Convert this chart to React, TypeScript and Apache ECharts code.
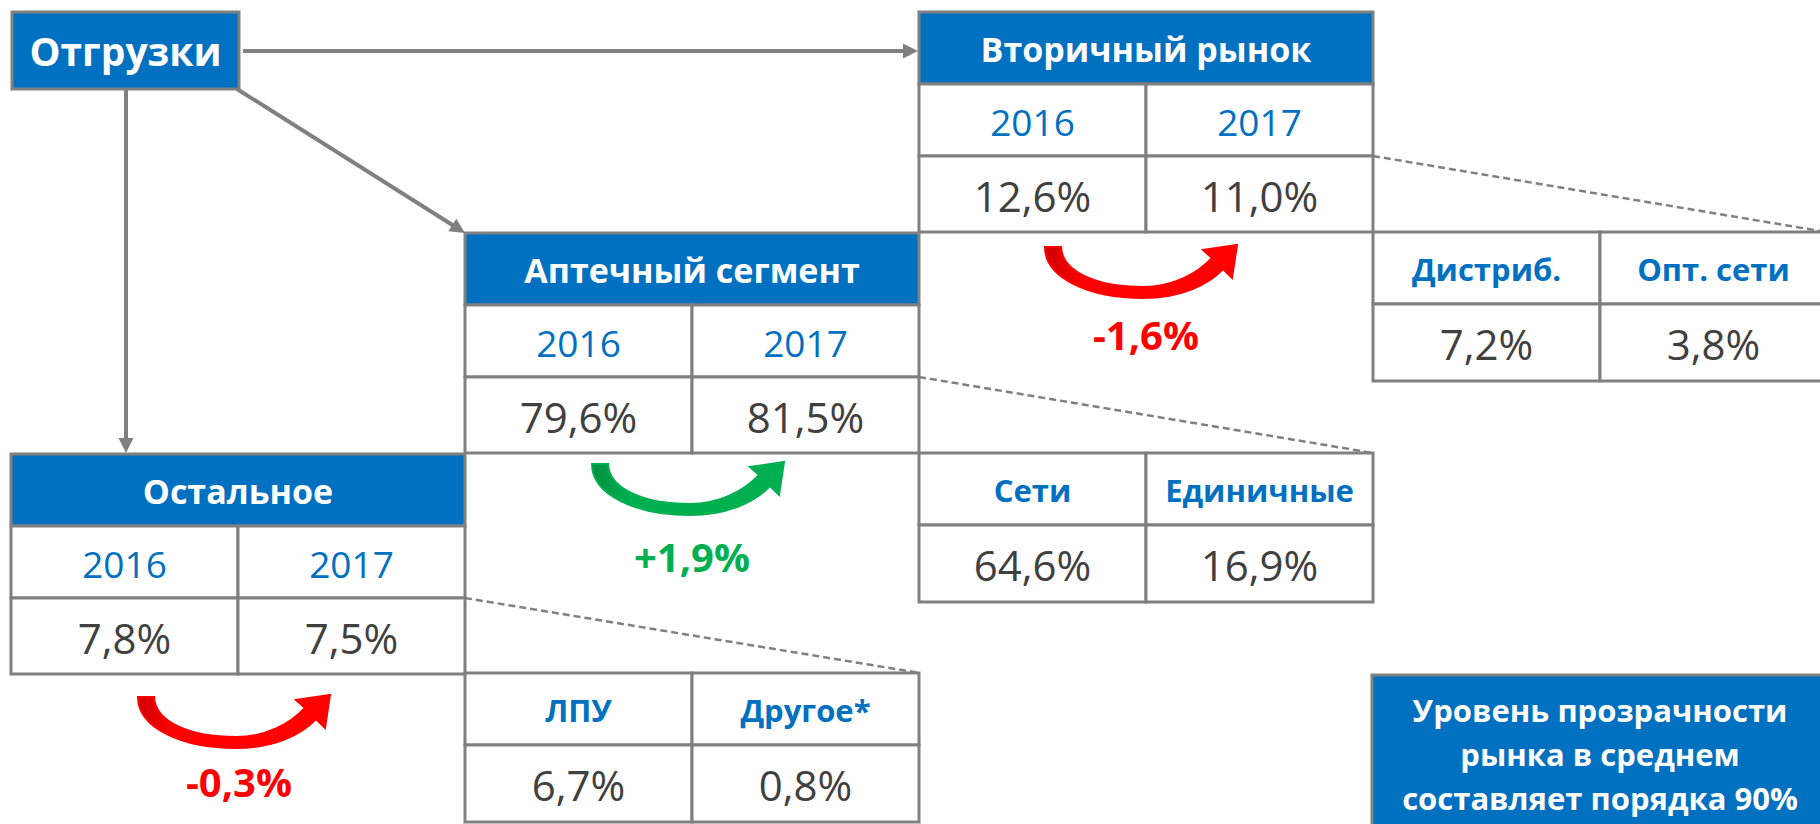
import React, { useEffect, useRef } from "react";
import * as echarts from "echarts";

// ---- data ----
const rootLabel = "Отгрузки";
const segments = ["Вторичный рынок", "Аптечный сегмент", "Остальное"];
const years = ["2016", "2017"];
const share2016 = [12.6, 79.6, 7.8];
const share2017 = [11.0, 81.5, 7.5];
const deltas = ["-1,6%", "+1,9%", "-0,3%"];
const subLabels = [
  ["Дистриб.", "Опт. сети"],
  ["Сети", "Единичные"],
  ["ЛПУ", "Другое*"],
];
const subValues = [
  [7.2, 3.8],
  [64.6, 16.9],
  [6.7, 0.8],
];
const noteLines = ["Уровень прозрачности", "рынка в среднем", "составляет порядка 90%"];

// ---- styling / layout ----
const BLUE = "#0070C0";
const GRAY = "#808080";
const DARK = "#404040";
const RED = "#FF0000";
const GREEN = "#00B050";
const FONT = "'Open Sans', 'Noto Sans', sans-serif";

const mainPos = [
  { x: 919, y: 12 },
  { x: 465, y: 233 },
  { x: 11, y: 454 },
];
const subPos = [
  { x: 1373, y: 232 },
  { x: 919, y: 453 },
  { x: 465, y: 673 },
];
const arcPos = [
  { x: 1045, y: 245, color: RED, inner: "#D00000" },
  { x: 592, y: 462, color: GREEN, inner: "#00903F" },
  { x: 138, y: 695, color: RED, inner: "#D00000" },
];
const deltaPos = [
  { x: 1146, y: 334 },
  { x: 692, y: 556 },
  { x: 239, y: 781 },
];

const fmt = (v: number) => v.toFixed(1).replace(".", ",") + "%";

const ARROW_D =
  "M0 2 C0 33 44 53 98 53 C135 53 163 40 178 24 L187 33 L192 0 L158 5 L167 13 C152 29 128 42 98 42 C52 42 17 27 16 2 Z";

let registered = false;
function ensureShape() {
  if (registered) return;
  echarts.graphic.registerShape("curvedArrow", echarts.graphic.extendPath(ARROW_D, {}));
  registered = true;
}

function txt(x: number, y: number, text: string, size: number, color: string, bold: boolean) {
  return {
    type: "text",
    x,
    y,
    z: 10,
    style: {
      text,
      fill: color,
      font: `${bold ? "bold " : ""}${size}px ${FONT}`,
      textAlign: "center",
      textVerticalAlign: "middle",
      align: "center",
      verticalAlign: "middle",
    },
  };
}

function rect(x: number, y: number, w: number, h: number, fill: string) {
  return {
    type: "rect",
    shape: { x, y, width: w, height: h },
    style: { fill, stroke: GRAY, lineWidth: 3 },
    z: 2,
  };
}

function arrowLine(x1: number, y1: number, x2: number, y2: number) {
  const dx = x2 - x1;
  const dy = y2 - y1;
  const len = Math.sqrt(dx * dx + dy * dy);
  const ux = dx / len;
  const uy = dy / len;
  const hl = 15;
  const hw = 7.5;
  const bx = x2 - ux * hl;
  const by = y2 - uy * hl;
  return [
    {
      type: "line",
      shape: { x1, y1, x2: bx + ux * 2, y2: by + uy * 2 },
      style: { stroke: GRAY, lineWidth: 4 },
      z: 1,
    },
    {
      type: "polygon",
      shape: {
        points: [
          [x2, y2],
          [bx - uy * hw, by + ux * hw],
          [bx + uy * hw, by - ux * hw],
        ],
      },
      style: { fill: GRAY },
      z: 1,
    },
  ];
}

function buildGraphic() {
  const els: any[] = [];
  const W = 454;
  const cw = W / 2;

  // root box
  els.push(rect(12, 12, 227, 77, BLUE));
  els.push(txt(125.5, 50, rootLabel, 39, "#FFFFFF", true));

  // connectors
  els.push(...arrowLine(243, 51, 918, 51));
  els.push(...arrowLine(126, 89, 126, 453));
  els.push(...arrowLine(237, 89, 465, 233));

  // dashed leader lines
  const dashed = [
    [1373, 156, 1826, 232],
    [919, 377, 1373, 453],
    [465, 598, 920, 673],
  ];
  dashed.forEach(([x1, y1, x2, y2]) =>
    els.push({
      type: "line",
      shape: { x1, y1, x2, y2 },
      style: { stroke: GRAY, lineWidth: 2.5, lineDash: [7, 4] },
      z: 1,
    })
  );

  // main tables
  segments.forEach((name, i) => {
    const { x, y } = mainPos[i];
    els.push(rect(x, y, W, 72, BLUE));
    els.push(rect(x, y + 72, cw, 72, "#FFFFFF"));
    els.push(rect(x + cw, y + 72, cw, 72, "#FFFFFF"));
    els.push(rect(x, y + 144, cw, 76, "#FFFFFF"));
    els.push(rect(x + cw, y + 144, cw, 76, "#FFFFFF"));
    els.push(txt(x + W / 2, y + 37, name, 34, "#FFFFFF", true));
    els.push(txt(x + cw / 2, y + 109, years[0], 37, BLUE, false));
    els.push(txt(x + cw * 1.5, y + 109, years[1], 37, BLUE, false));
    els.push(txt(x + cw / 2, y + 183, fmt(share2016[i]), 42, DARK, false));
    els.push(txt(x + cw * 1.5, y + 183, fmt(share2017[i]), 42, DARK, false));
  });

  // sub tables
  subLabels.forEach((labels, i) => {
    const { x, y } = subPos[i];
    els.push(rect(x, y, cw, 72, "#FFFFFF"));
    els.push(rect(x + cw, y, cw, 72, "#FFFFFF"));
    els.push(rect(x, y + 72, cw, 77, "#FFFFFF"));
    els.push(rect(x + cw, y + 72, cw, 77, "#FFFFFF"));
    els.push(txt(x + cw / 2, y + 37, labels[0], 31, BLUE, true));
    els.push(txt(x + cw * 1.5, y + 37, labels[1], 31, BLUE, true));
    els.push(txt(x + cw / 2, y + 111, fmt(subValues[i][0]), 42, DARK, false));
    els.push(txt(x + cw * 1.5, y + 111, fmt(subValues[i][1]), 42, DARK, false));
  });

  // change arrows + deltas
  arcPos.forEach((a, i) => {
    els.push({
      type: "curvedArrow",
      x: a.x,
      y: a.y,
      style: {
        fill: {
          type: "linear",
          x: 0,
          y: 0,
          x2: 1,
          y2: 0,
          colorStops: [
            { offset: 0, color: a.inner },
            { offset: 0.2, color: a.color },
            { offset: 1, color: a.color },
          ],
        },
        stroke: a.color,
        lineWidth: 2,
      },
      z: 5,
    });
    els.push(txt(deltaPos[i].x, deltaPos[i].y, deltas[i], 40, a.color, true));
  });

  // note box
  els.push(rect(1372, 675, 470, 170, BLUE));
  noteLines.forEach((line, i) => {
    els.push(txt(1600, 710 + i * 44, line, 31, "#FFFFFF", true));
  });

  return els;
}

export default function App() {
  const ref = useRef<HTMLDivElement>(null);
  useEffect(() => {
    document.body.style.margin = "0";
    ensureShape();
    const chart = echarts.init(ref.current!, undefined, { renderer: "svg" });
    chart.setOption({
      animation: false,
      backgroundColor: "#FFFFFF",
      graphic: { elements: buildGraphic() },
    });
    return () => chart.dispose();
  }, []);
  return (
    <div
      ref={ref}
      style={{ position: "absolute", left: 0, top: 0, width: 1820, height: 824, background: "#fff" }}
    />
  );
}
